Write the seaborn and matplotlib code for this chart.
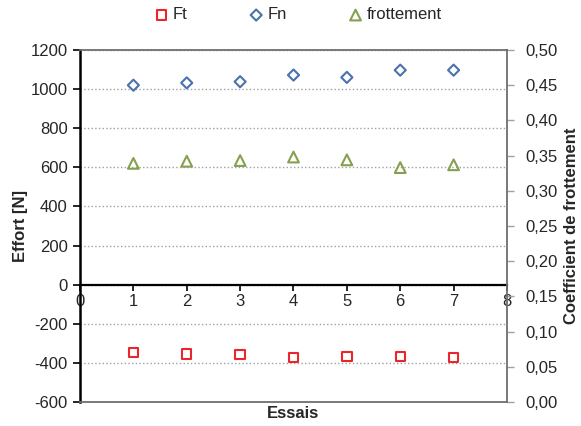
import numpy as np
import pandas as pd
import matplotlib.pyplot as plt
import seaborn as sns
from matplotlib.ticker import FuncFormatter, MultipleLocator

sns.set_theme(style="white")
plt.rcParams['font.family'] = ['Liberation Sans', 'DejaVu Sans']
plt.rcParams['axes.unicode_minus'] = False

# Données
essais = [1, 2, 3, 4, 5, 6, 7]
ft = [-347, -355, -357, -374, -368, -368, -371]
fn = [1020, 1032, 1038, 1072, 1060, 1097, 1097]
frottement = [0.339, 0.342, 0.343, 0.348, 0.344, 0.333, 0.337]

fig = plt.figure(figsize=(5.81, 4.26), dpi=100)
ax = fig.add_axes([0.1377, 0.0563, 0.7349, 0.8263])
ax2 = ax.twinx()

red, blue, green = "#E8262C", "#4A72AE", "#86A050"

sns.scatterplot(x=essais, y=ft, marker="s", s=45, facecolor="none",
                edgecolor=red, linewidth=1.5, label="Ft", ax=ax, zorder=3)
sns.scatterplot(x=essais, y=fn, marker="D", s=32, facecolor="none",
                edgecolor=blue, linewidth=1.5, label="Fn", ax=ax, zorder=3)
sns.scatterplot(x=essais, y=frottement, marker="^", s=60, facecolor="none",
                edgecolor=green, linewidth=1.5, label="frottement", ax=ax2, zorder=3)

# Axe gauche
ax.set_xlim(0, 8)
ax.set_ylim(-600, 1200)
ax.yaxis.set_major_locator(MultipleLocator(200))
ax.xaxis.set_major_locator(MultipleLocator(1))
ax.grid(axis="y", linestyle=":", color="#A0A0A0", linewidth=1)
ax.grid(axis="x", visible=False)
ax.spines["bottom"].set_position(("data", 0))
ax.spines["bottom"].set_color("black")
ax.spines["bottom"].set_linewidth(1.6)
ax.spines["left"].set_color("black")
ax.spines["left"].set_linewidth(1.8)
ax.spines["top"].set_visible(False)
ax.spines["right"].set_visible(False)
ax.tick_params(axis="y", direction="out", length=5, width=1.2, color="black",
               labelsize=12, pad=4, left=True)
ax.tick_params(axis="x", direction="out", length=4, width=1.2, color="black",
               labelsize=12, pad=3, bottom=True)
ax.set_ylabel("Effort [N]", fontsize=12, fontweight="bold", labelpad=2)
ax.set_xlabel("")

# Axe droit
ax2.set_ylim(0, 0.5)
ax2.yaxis.set_major_locator(MultipleLocator(0.05))
ax2.yaxis.set_major_formatter(FuncFormatter(lambda v, p: f"{v:.2f}".replace(".", ",")))
ax2.grid(False)
for s in ["top", "right", "bottom"]:
    ax2.spines[s].set_color("#6E6E6E")
    ax2.spines[s].set_linewidth(1.3)
ax2.spines["left"].set_visible(False)
ax2.tick_params(axis="y", direction="out", length=5, width=1, color="#A0A0A0",
                labelsize=12, pad=8, right=True)
ax2.set_ylabel("Coefficient de frottement", fontsize=12, fontweight="bold", labelpad=5)

fig.text(0.5 * (0.1377 + 0.8726), 0.012, "Essais", ha="center", va="bottom",
         fontsize=12, fontweight="bold")

# Légende commune
h1, l1 = ax.get_legend_handles_labels()
h2, l2 = ax2.get_legend_handles_labels()
for a in (ax, ax2):
    if a.get_legend():
        a.get_legend().remove()
fig.legend(h1 + h2, l1 + l2, loc="center", bbox_to_anchor=(0.511, 0.965), ncol=3,
           frameon=False, fontsize=12, handletextpad=0.1, columnspacing=3.5,
           handlelength=1.2)

plt.savefig("out.png", dpi=100)
